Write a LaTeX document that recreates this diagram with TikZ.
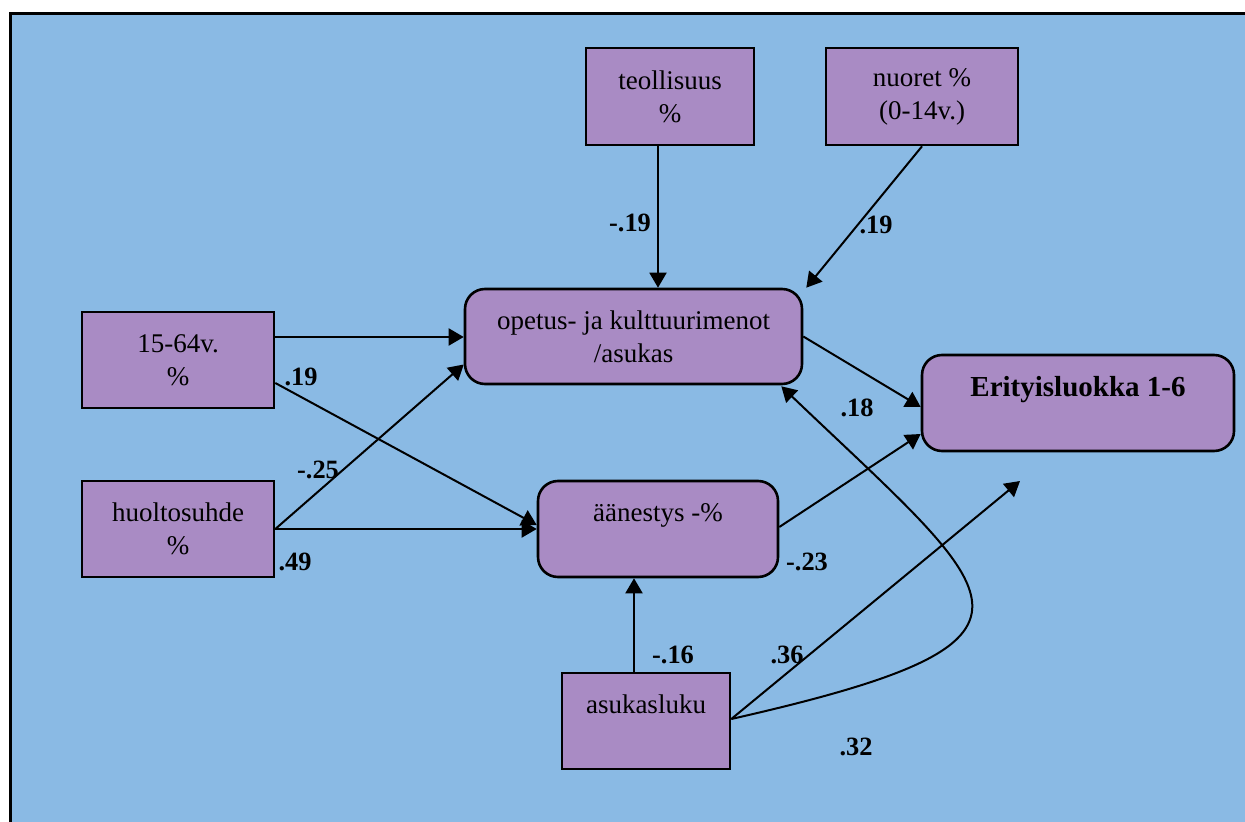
\documentclass[tikz,border=0pt]{standalone}
\usepackage{fontspec}
\setmainfont{Liberation Serif}
\usetikzlibrary{arrows.meta,calc}
\definecolor{bgblue}{RGB}{138,186,228}
\definecolor{boxpurple}{RGB}{169,139,196}
\tikzset{
  var/.style={draw=black, line width=1.3pt, fill=boxpurple, inner sep=0pt,
    align=center, font=\fontsize{13.5}{16.5}\selectfont},
  roundvar/.style={var, rounded corners=10pt},
  arr/.style={line width=1pt, -{Triangle[length=7.5pt,width=8.5pt]}},
  coef/.style={font=\fontsize{13.2}{15}\selectfont\bfseries, inner sep=0pt}
}
\begin{document}
\begin{tikzpicture}[x=0.5pt,y=-0.5pt]
  \useasboundingbox (0,0) rectangle (1245,822);
  \fill[white] (0,0) rectangle (1245,822);
  \begin{scope}
    \clip (0,0) rectangle (1245,822);
    \draw[line width=1.2pt, fill=bgblue] (10.5,13.5) rectangle (1270,850);
  \end{scope}

  % variables
  \node[var, minimum width=84pt, minimum height=48.5pt] (teol) at (670,96.5) {teollisuus\\\%};
  \node[var, minimum width=96pt, minimum height=48.5pt] (nuoret) at (922,96.5) {nuoret \%\\(0-14v.)};
  \node[roundvar, minimum width=168.5pt, minimum height=47.5pt] (opetus) at (633.5,336.5) {opetus- ja kulttuurimenot\\/asukas};
  \node[roundvar, minimum width=156pt, minimum height=48pt, font=\fontsize{14.5}{16.5}\selectfont\bfseries] (erit) at (1078,403) {Erityisluokka 1-6\\\phantom{X}};
  \node[var, minimum width=96pt, minimum height=48pt] (p1564) at (178,360) {15-64v.\\\%};
  \node[var, minimum width=96pt, minimum height=48pt] (huolto) at (178,529) {huoltosuhde\\\%};
  \node[roundvar, minimum width=120pt, minimum height=48pt] (aan) at (658,529) {äänestys -\%\\\phantom{X}};
  \node[var, minimum width=84pt, minimum height=48pt] (asuk) at (646,721) {asukasluku\\\phantom{X}};

  % connectors
  \coordinate (t1) at ($(teol.south)+(-12,0)$);
  \draw[arr] (t1) -- (t1 |- opetus.north);
  \draw[arr] (nuoret.south) -- ($(opetus.north east)+(3,0)$);
  \coordinate (p1) at ($(p1564.east)+(0,-23)$);
  \draw[arr] (p1) -- (p1 -| opetus.west);
  \draw[arr] ($(p1564.east)+(0,23)$) -- ($(aan.west)+(0,-4)$);
  \draw[arr] (huolto.east) -- ($(opetus.west)+(0,28)$);
  \draw[arr] (huolto.east) -- (aan.west);
  \draw[arr] ($(aan.east)+(0,-2)$) -- ($(erit.west)+(0,31)$);
  \draw[arr] (opetus.east) -- ($(erit.west)+(0,4)$);
  \coordinate (a1) at ($(asuk.north)+(-12,0)$);
  \draw[arr] (a1) -- (a1 |- aan.south);
  \coordinate (free) at (1020,481);
  \draw[arr] ($(asuk.east)+(0,-2)$) -- (free);
  \draw[arr] ($(asuk.east)+(0,-2)$) .. controls (1080,640) and (1005,600) .. ($(opetus.south east)+(-22,1)$);

  % path coefficients
  \node[coef] (c1) at (630,223) {-.19};
  \node[coef] (c2) at (876,225) {.19};
  \node[coef] (c3) at (301,377) {.19};
  \node[coef] (c4) at (318,470) {-.25};
  \node[coef] (c5) at (295,562) {.49};
  \node[coef] (c6) at (807,562) {-.23};
  \node[coef] (c7) at (857,408) {.18};
  \node[coef] (c8) at (673,655) {-.16};
  \node[coef] (c9) at (787,655) {.36};
  \node[coef] (c10) at (856,747) {.32};
\end{tikzpicture}
\end{document}
